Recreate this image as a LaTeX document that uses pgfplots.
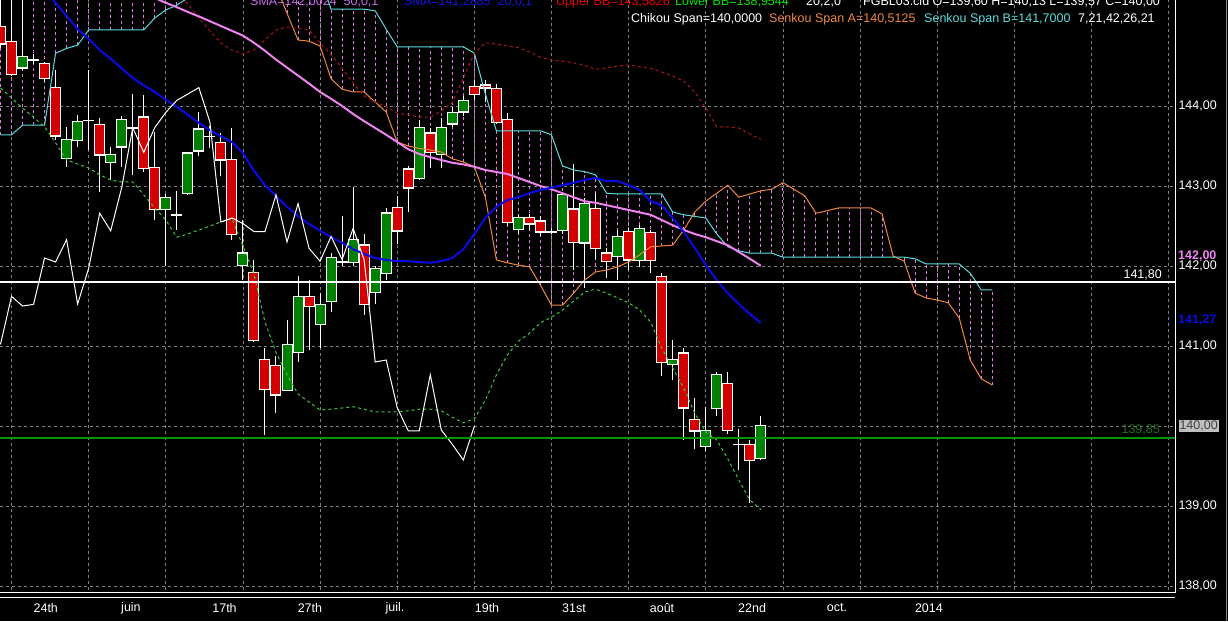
\documentclass[border=0pt]{standalone}
\usepackage{pgfplots}
\usepackage{pgfplotstable}
\pgfplotsset{compat=1.18}
\usepackage{fontspec}
\setmainfont{Liberation Sans}
\definecolor{candlered}{RGB}{210,0,0}
\definecolor{candlegreen}{RGB}{0,128,0}
\definecolor{smaviolet}{RGB}{238,130,238}
\definecolor{smablue}{RGB}{10,10,230}
\definecolor{bbred}{RGB}{175,20,20}
\definecolor{bbgreen}{RGB}{60,200,60}
\definecolor{senkA}{RGB}{240,135,60}
\definecolor{senkB}{RGB}{90,220,220}
\definecolor{hatch}{RGB}{225,120,225}
\definecolor{gridgray}{RGB}{128,128,128}
\definecolor{lvlgreen}{RGB}{0,150,0}
\definecolor{lblgreen}{RGB}{40,110,40}
\definecolor{boxgray}{RGB}{192,192,192}
\definecolor{hdrviolet}{RGB}{200,110,230}
\definecolor{hdrblue}{RGB}{20,20,230}
\definecolor{hdrred}{RGB}{230,0,0}
\definecolor{hdrgreen}{RGB}{0,230,0}
\newcommand\hdr{\fontsize{12.5}{14}\selectfont}

\pgfplotstableread{
i O H L C
0 144.99 145.35 144.72 144.78
1 144.80 145.40 144.37 144.40
2 144.48 145.40 144.45 144.62
3 144.575 144.65 144.52 144.575
4 144.53 144.55 144.30 144.35
5 144.23 144.45 143.58 143.63
6 143.35 143.74 143.24 143.58
7 143.575 143.89 143.49 143.80
8 143.82 144.45 143.45 143.82
9 143.77 143.85 142.92 143.39
10 143.30 143.49 143.08 143.39
11 143.49 143.87 143.24 143.825
12 143.73 144.15 143.14 143.73
13 143.86 144.14 143.18 143.22
14 143.23 143.68 142.58 142.71
15 142.71 142.90 142.00 142.85
16 142.64 142.94 142.45 142.64
17 142.91 143.43 142.89 143.41
18 143.44 143.93 143.37 143.71
19 143.62 143.75 143.47 143.62
20 143.54 143.66 143.12 143.33
21 143.33 143.72 142.33 142.40
22 142.01 142.58 141.83 142.16
23 141.92 142.075 141.05 141.07
24 140.83 140.97 139.89 140.46
25 140.75 140.87 140.16 140.39
26 140.45 141.325 140.45 141.02
27 140.92 141.87 140.80 141.62
28 141.62 141.83 140.95 141.50
29 141.27 141.66 140.97 141.52
30 141.56 142.16 141.43 142.10
31 142.05 142.62 142.00 142.05
32 142.05 142.99 142.00 142.33
33 142.26 142.40 141.39 141.525
34 141.67 142.00 141.525 141.97
35 141.91 142.72 141.83 142.66
36 142.73 142.87 142.28 142.44
37 143.21 143.25 142.68 142.98
38 143.10 143.825 143.075 143.73
39 143.66 143.73 143.22 143.42
40 143.40 143.85 143.23 143.73
41 143.78 143.99 143.74 143.92
42 143.93 144.12 143.87 144.07
43 144.24 144.33 144.08 144.15
44 144.26 144.33 144.05 144.23
45 144.22 144.28 143.78 143.80
46 143.83 143.91 142.50 142.55
47 142.46 142.65 142.40 142.60
48 142.60 142.65 142.45 142.53
49 142.56 142.62 142.38 142.43
50 142.43 142.47 142.40 142.43
51 142.45 142.92 142.40 142.89
52 142.71 143.27 141.95 142.30
53 142.29 142.85 141.72 142.78
54 142.72 142.91 142.075 142.22
55 142.16 142.22 141.85 142.06
56 142.12 142.45 141.83 142.37
57 142.43 142.48 141.95 142.08
58 142.075 142.51 141.99 142.47
59 142.42 142.45 141.91 142.075
60 141.87 141.91 140.625 140.80
61 140.775 141.08 140.57 140.825
62 140.91 140.98 139.825 140.23
63 140.075 140.35 139.71 139.94
64 139.75 140.24 139.69 139.94
65 140.22 140.67 140.12 140.64
66 140.53 140.67 139.90 139.95
67 139.77 139.96 139.45 139.77
68 139.77 139.825 139.04 139.575
69 139.60 140.13 139.57 140.00
}\candles

\pgfplotstableread{
i A B
0 145.6 143.64
1 145.6 143.64
2 145.6 143.76
3 145.6 143.76
4 145.6 143.76
5 145.6 144.66
6 145.6 144.72
7 145.6 144.76
8 145.6 144.95
9 145.6 144.95
10 145.6 144.95
11 145.6 144.95
12 145.6 144.95
13 145.6 144.95
14 145.6 145.10
15 145.6 145.20
16 145.6 145.26
17 145.6 145.35
18 145.6 145.6
19 145.6 145.6
20 145.6 145.6
21 145.6 145.6
22 145.6 145.6
23 145.6 145.6
24 145.6 145.6
25 145.5 145.6
26 145.16 145.6
27 144.825 145.6
28 144.81 145.6
29 144.75 145.6
30 144.34 145.21
31 144.21 145.21
32 144.175 145.21
33 144.175 145.21
34 144.05 145.19
35 143.925 144.96
36 143.55 144.74
37 143.50 144.74
38 143.47 144.74
39 143.45 144.74
40 143.425 144.74
41 143.34 144.74
42 143.30 144.74
43 143.24 144.66
44 142.86 144.15
45 142.075 143.69
46 142.04 143.69
47 142.01 143.69
48 141.99 143.69
49 141.76 143.69
50 141.51 143.64
51 141.51 143.25
52 141.66 143.20
53 141.825 143.18
54 141.925 143.14
55 141.95 142.91
56 141.99 142.90
57 142.05 142.90
58 142.14 142.90
59 142.24 142.90
60 142.25 142.90
61 142.26 142.675
62 142.45 142.64
63 142.675 142.62
64 142.81 142.60
65 142.91 142.40
66 143.01 142.24
67 142.86 142.19
68 142.90 142.16
69 142.94 142.16
70 142.96 142.16
71 143.04 142.11
72 142.96 142.11
73 142.875 142.11
74 142.66 142.11
75 142.69 142.11
76 142.725 142.11
77 142.725 142.11
78 142.725 142.11
79 142.725 142.11
80 142.65 142.11
81 142.125 142.11
82 142.06 142.11
83 141.66 142.09
84 141.60 142.025
85 141.575 142.025
86 141.54 142.025
87 141.35 142.025
88 140.825 141.91
89 140.59 141.70
90 140.5125 141.70
}\kumo

\begin{document}
\begin{tikzpicture}[x=1pt,y=1pt]
\fill[black] (0,-31) rectangle (1228,590);
\begin{axis}[
  at={(0pt,0pt)}, anchor=south west,
  scale only axis, width=1175pt, height=590pt,
  xmin=-0.045, xmax=106.58, ymin=137.95, ymax=145.325,
  axis line style={draw=none},
  xtick={1,8,...,106}, xticklabels={},
  ytick={138,139,...,144},
  yticklabels={{138,00},{139,00},{\setlength{\fboxsep}{1pt}\colorbox{boxgray}{\textcolor{black!75}{140,00}}},{141,00},{142,00},{143,00},{144,00}},
  yticklabel pos=right,
  major tick length=0pt,
  tick style={draw=none},
  grid=major,
  major grid style={gridgray, dash pattern=on 3pt off 3pt, line width=0.8pt},
  yticklabel style={white, font=\hdr},
  extra x ticks={4.11,11.84,20.33,28.08,35.8,44.15,52.04,60.03,68.2,75.9,84.25},
  extra x tick labels={24th,juin,17th,27th,juil.,19th,31st,août,22nd,oct.,2014},
  extra x tick style={grid=none, tick label style={white, font=\hdr, anchor=center, yshift=-18pt}},
]
% Kumo hatching
\addplot[draw=none, mark=none, forget plot,
  error bars/.cd, y dir=both, y explicit, error mark=none,
  error bar style={draw=hatch, line width=1pt, dash pattern=on 3pt off 3pt}]
  table[x=i, y expr={min(\thisrow{A},\thisrow{B})}, y error plus expr={abs(\thisrow{A}-\thisrow{B})}, y error minus expr=0] {\kumo};
% wicks
\addplot[draw=none, mark=none, forget plot,
  error bars/.cd, y dir=both, y explicit, error mark=none,
  error bar style={draw=white, line width=1pt, solid}]
  table[x=i, y=L, y error plus expr={\thisrow{H}-\thisrow{L}}, y error minus expr=0] {\candles};
% white body outlines
\addplot[draw=none, mark=none, forget plot,
  error bars/.cd, y dir=both, y explicit, error mark=none,
  error bar style={draw=white, line width=11pt, solid, line cap=butt}]
  table[x=i, y expr={min(\thisrow{O},\thisrow{C})}, y error plus expr={abs(\thisrow{C}-\thisrow{O})+0.009}, y error minus expr=0.009] {\candles};
% up bodies
\addplot[draw=none, mark=none, forget plot,
  restrict expr to domain={\thisrow{C}-\thisrow{O}}{0.001:100},
  error bars/.cd, y dir=both, y explicit, error mark=none,
  error bar style={draw=candlegreen, line width=9pt, solid, line cap=butt}]
  table[x=i, y expr={\thisrow{O}+0.004}, y error plus expr={\thisrow{C}-\thisrow{O}-0.008}, y error minus expr=0] {\candles};
% down bodies
\addplot[draw=none, mark=none, forget plot,
  restrict expr to domain={\thisrow{O}-\thisrow{C}}{0.001:100},
  error bars/.cd, y dir=both, y explicit, error mark=none,
  error bar style={draw=candlered, line width=9pt, solid, line cap=butt}]
  table[x=i, y expr={\thisrow{C}+0.004}, y error plus expr={\thisrow{O}-\thisrow{C}-0.008}, y error minus expr=0] {\candles};
% Senkou spans
\addplot[senkA, line width=1pt, mark=none] table[x=i, y=A] {\kumo};
\addplot[senkB, line width=1pt, mark=none] table[x=i, y=B] {\kumo};
% Bollinger bands
\addplot[bbred, line width=1pt, mark=none, dash pattern=on 3pt off 3pt] coordinates {
(16,145.41)(17,145.275)(18,145.10)(19,144.94)(20,144.79)(21,144.70)(22,144.65)(23,144.70)(24,144.825)(25,144.95)(26,144.99)(27,144.97)(28,144.95)(29,144.79)(30,144.64)(31,144.475)(32,144.29)(33,144.125)(34,144.05)(35,143.99)(36,143.91)(37,143.89)(38,143.86)(39,143.86)(40,143.94)(41,144.04)(42,144.35)(43,144.66)(44,144.79)(45,144.775)(46,144.75)(47,144.73)(48,144.675)(49,144.61)(50,144.575)(51,144.56)(52,144.54)(53,144.51)(54,144.46)(55,144.475)(56,144.50)(57,144.51)(58,144.49)(59,144.47)(60,144.425)(61,144.375)(62,144.31)(63,144.175)(64,143.975)(65,143.74)(66,143.74)(67,143.725)(68,143.65)(69,143.5826)};
\addplot[bbgreen, line width=1pt, mark=none, dash pattern=on 3pt off 3pt] coordinates {
(0,144.225)(1,144.10)(2,143.975)(3,143.86)(4,143.74)(5,143.54)(6,143.325)(7,143.275)(8,143.225)(9,143.14)(10,143.075)(11,143.05)(12,143.05)(13,142.89)(14,142.725)(15,142.575)(16,142.36)(17,142.40)(18,142.45)(19,142.50)(20,142.55)(21,142.59)(22,142.25)(23,141.90)(24,141.30)(25,140.92)(26,140.64)(27,140.40)(28,140.30)(29,140.20)(30,140.21)(31,140.225)(32,140.24)(33,140.21)(34,140.175)(35,140.175)(36,140.175)(37,140.19)(38,140.21)(39,140.21)(40,140.19)(41,140.11)(42,140.04)(43,140.09)(44,140.325)(45,140.64)(46,140.89)(47,141.06)(48,141.16)(49,141.29)(50,141.36)(51,141.45)(52,141.56)(53,141.675)(54,141.71)(55,141.66)(56,141.60)(57,141.54)(58,141.45)(59,141.30)(60,140.975)(61,140.725)(62,140.475)(63,140.16)(64,139.925)(65,139.825)(66,139.59)(67,139.325)(68,139.075)(69,138.9544)};
% SMA 50
\addplot[smaviolet, line width=2pt, mark=none] coordinates {
(13,145.45)(14,145.35)(15,145.29)(16,145.235)(17,145.175)(18,145.12)(19,145.06)(20,145.00)(21,144.94)(22,144.88)(23,144.79)(24,144.69)(25,144.58)(26,144.48)(27,144.38)(28,144.28)(29,144.175)(30,144.09)(31,144.00)(32,143.90)(33,143.81)(34,143.725)(35,143.64)(36,143.55)(37,143.46)(38,143.40)(39,143.36)(40,143.325)(41,143.29)(42,143.27)(43,143.24)(44,143.20)(45,143.175)(46,143.15)(47,143.10)(48,143.05)(49,143.00)(50,142.96)(51,142.91)(52,142.86)(53,142.81)(54,142.79)(55,142.76)(56,142.73)(57,142.70)(58,142.67)(59,142.64)(60,142.575)(61,142.51)(62,142.45)(63,142.40)(64,142.36)(65,142.31)(66,142.26)(67,142.175)(68,142.09)(69,142.0024)};
% SMA 20
\addplot[smablue, line width=2pt, mark=none] coordinates {
(4,145.44)(5,145.29)(6,145.125)(7,144.96)(8,144.84)(9,144.70)(10,144.59)(11,144.47)(12,144.35)(13,144.26)(14,144.175)(15,144.08)(16,143.99)(17,143.89)(18,143.79)(19,143.70)(20,143.62)(21,143.55)(22,143.41)(23,143.19)(24,143.01)(25,142.875)(26,142.74)(27,142.625)(28,142.525)(29,142.44)(30,142.36)(31,142.29)(32,142.21)(33,142.15)(34,142.10)(35,142.075)(36,142.06)(37,142.06)(38,142.05)(39,142.04)(40,142.06)(41,142.10)(42,142.21)(43,142.40)(44,142.60)(45,142.74)(46,142.825)(47,142.86)(48,142.91)(49,142.95)(50,142.98)(51,143.01)(52,143.04)(53,143.075)(54,143.10)(55,143.06)(56,143.06)(57,143.01)(58,142.95)(59,142.81)(60,142.76)(61,142.60)(62,142.425)(63,142.225)(64,142.01)(65,141.825)(66,141.66)(67,141.525)(68,141.40)(69,141.2885)};
% Chikou span
\addplot[white, line width=1pt, mark=none] coordinates {
(0,141.02)(1,141.62)(2,141.50)(3,141.52)(4,142.10)(5,142.05)(6,142.33)(7,141.525)(8,141.97)(9,142.66)(10,142.44)(11,142.98)(12,143.73)(13,143.42)(14,143.73)(15,143.92)(16,144.07)(17,144.15)(18,144.23)(19,143.80)(20,142.55)(21,142.60)(22,142.53)(23,142.43)(24,142.43)(25,142.89)(26,142.30)(27,142.78)(28,142.22)(29,142.06)(30,142.37)(31,142.08)(32,142.47)(33,142.075)(34,140.80)(35,140.825)(36,140.23)(37,139.94)(38,139.94)(39,140.64)(40,139.95)(41,139.77)(42,139.575)(43,140.00)};
% level lines
\addplot[white, line width=2pt, mark=none] coordinates {(-1,141.80) (106.58,141.80)};
\addplot[lvlgreen, line width=2pt, mark=none] coordinates {(-1,139.85) (106.58,139.85)};
\end{axis}
% frame lines
\draw[white, line width=1pt] (1175.5,590) -- (1175.5,-3);
\draw[white, line width=1pt] (0,-2) -- (1175,-2);
\draw[white, line width=1pt] (0,-7) -- (1175,-7);
\draw[gray, line width=1pt] (1226.5,590) -- (1226.5,-31);
% right side labels
\node[anchor=west, inner sep=0pt, text=smaviolet, font=\hdr\bfseries] at (1178,334) {142,00};
\node[anchor=west, inner sep=0pt, text=smablue, font=\hdr\bfseries] at (1178,270) {141,27};
\node[anchor=east, inner sep=0pt, text=white, font=\hdr] at (1162,315) {141,80};
\node[anchor=east, inner sep=0pt, text=lblgreen, font=\hdr] at (1160,160) {139,85};
% header
\node[anchor=base west, inner sep=0pt, text=hdrviolet, font=\hdr] at (250,584) {SMA=142,0024\ \ 50,0,1};
\node[anchor=base west, inner sep=0pt, text=hdrblue, font=\hdr] at (404,584) {SMA=141,2885\ \ 20,0,1};
\node[anchor=base west, inner sep=0pt, text=hdrred, font=\hdr] at (556,584) {Upper BB=143,5826};
\node[anchor=base west, inner sep=0pt, text=hdrgreen, font=\hdr] at (675,584) {Lower BB=138,9544};
\node[anchor=base west, inner sep=0pt, text=white, font=\hdr] at (806,584) {20,2,0};
\node[anchor=base west, inner sep=0pt, text=white, font=\hdr] at (863,584) {FGBL03.cld O=139,60 H=140,13 L=139,57 C=140,00};
\node[anchor=base west, inner sep=0pt, text=white, font=\hdr] at (631,567) {Chikou Span=140,0000};
\node[anchor=base west, inner sep=0pt, text=senkA, font=\hdr] at (769,567) {Senkou Span A=140,5125};
\node[anchor=base west, inner sep=0pt, text=senkB, font=\hdr] at (924,567) {Senkou Span B=141,7000};
\node[anchor=base west, inner sep=0pt, text=white, font=\hdr] at (1078,567) {7,21,42,26,21};
\pgfresetboundingbox
\path[use as bounding box] (0,-31) rectangle (1228,590);
\end{tikzpicture}
\end{document}
